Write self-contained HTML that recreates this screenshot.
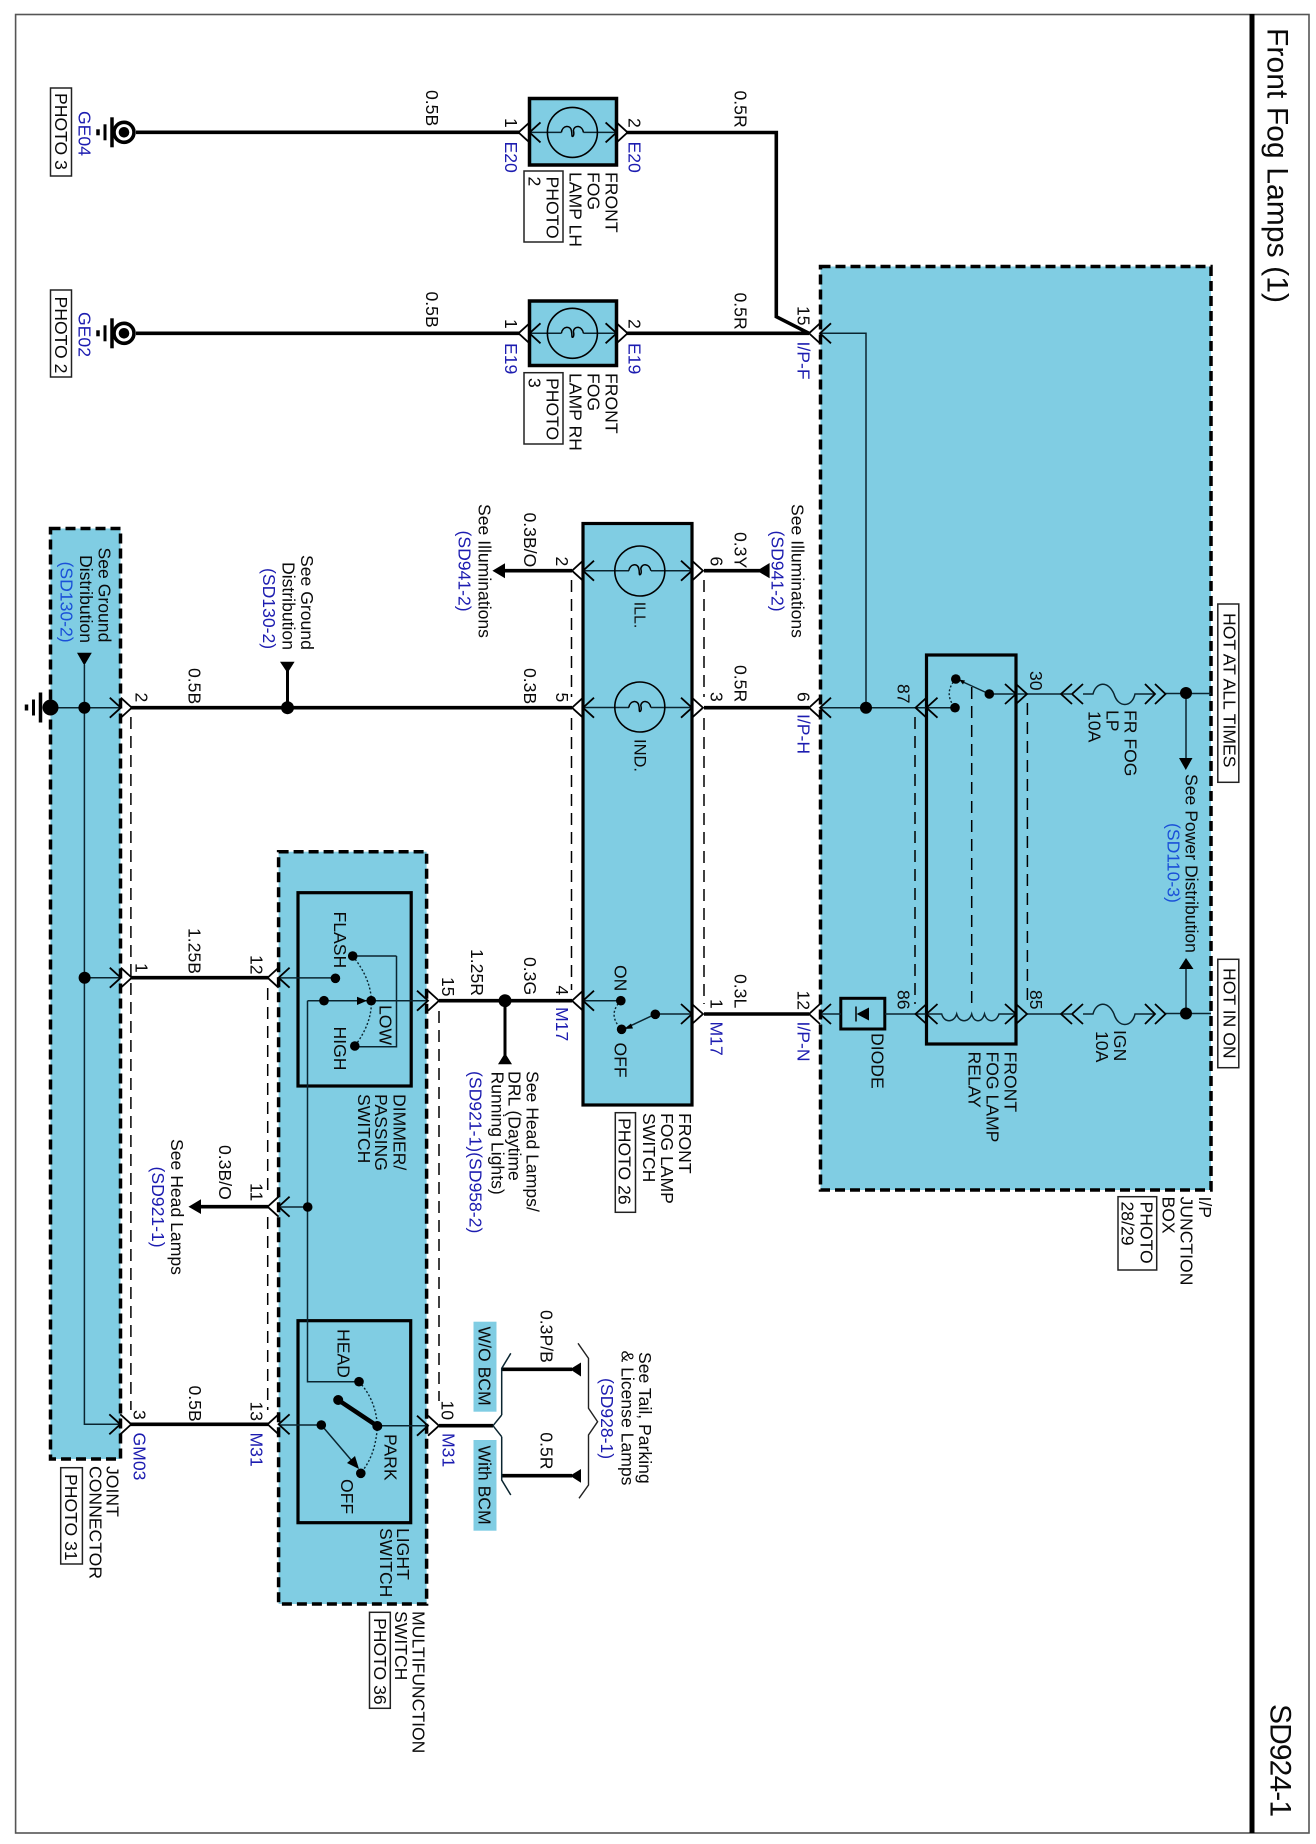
<!DOCTYPE html>
<html><head><meta charset="utf-8"><style>
html,body{margin:0;padding:0;background:#fff}
svg{display:block}
text{font-family:"Liberation Sans",Arial,sans-serif;font-size:17.6px;fill:#0a0a0a}
.b{fill:#1c1cb0}.c{fill:#1a50d8}
.w{stroke:#000;stroke-width:3.6;fill:none}
.t{stroke:#0a2530;stroke-width:1.5;fill:none}
.k{stroke:#000;stroke-width:3;fill:none}
.d{stroke:#000;stroke-width:1.5;fill:none;stroke-dasharray:12 7}
.box{fill:#80cde3;stroke:#000;stroke-width:3.5;stroke-dasharray:10 5}
.lb{fill:#fff;stroke:#222;stroke-width:1.5}
.dot{stroke:#0a2530;stroke-width:1.4;fill:none;stroke-dasharray:2 2}
</style></head><body>
<svg width="1316" height="1844" viewBox="0 0 1316 1844" xmlns="http://www.w3.org/2000/svg">
<defs>
<g id="L" fill="none" stroke="#000" stroke-width="1.8"><path d="M0-10 L-11 0 L0 10"/><path d="M11-10 L0 0 L11 10"/></g>
<g id="R" fill="none" stroke="#000" stroke-width="1.8"><path d="M0-10 L11 0 L0 10"/><path d="M-11-10 L0 0 L-11 10"/></g>
<path id="f" fill="none" stroke="#000" stroke-width="1.5" d="M-11 0 C-10-7-2-8-1-2 C0 2-1 4 0 4 C1 4 2 2 1-2 C2-8 10-7 11 0"/>
<g id="g" fill="none" stroke="#000"><path d="M-26-3V3" stroke-width="3.5"/><path d="M-19-8V8" stroke-width="3"/><path d="M-12-15V15" stroke-width="3.5"/></g>
</defs>
<rect width="1316" height="1844" fill="#fff"/>
<rect x="15.6" y="14.5" width="1293.4" height="1818.5" fill="none" stroke="#555" stroke-width="1.6"/>
<path d="M1252 14V1833" stroke="#000" stroke-width="5"/>

<!-- component boxes -->
<rect class="box" x="820.5" y="266.5" width="390.5" height="923.5"/>
<rect class="box" x="50.5" y="528.5" width="70" height="930.5"/>
<rect class="box" x="278.6" y="851.7" width="148" height="752.3"/>
<rect x="583" y="523.5" width="109" height="581.5" fill="#80cde3" stroke="#000" stroke-width="3.2"/>
<rect x="529.5" y="98.5" width="87" height="66.5" fill="#80cde3" stroke="#000" stroke-width="3.5"/>
<rect x="529.5" y="301" width="87" height="64.5" fill="#80cde3" stroke="#000" stroke-width="3.5"/>
<rect x="926.5" y="655" width="89.5" height="389" fill="none" stroke="#000" stroke-width="3.2"/>
<rect x="298" y="892.7" width="113.2" height="193.3" fill="none" stroke="#000" stroke-width="3.2"/>
<rect x="298" y="1320.7" width="112.7" height="202" fill="none" stroke="#000" stroke-width="3.2"/>
<rect x="840.8" y="998.3" width="44" height="30.7" fill="none" stroke="#000" stroke-width="3"/>

<!-- label boxes -->
<rect class="lb" x="50.5" y="88" width="21" height="88"/>
<rect class="lb" x="50.5" y="290" width="21" height="87"/>
<rect class="lb" x="524" y="171" width="39" height="71"/>
<rect class="lb" x="524" y="372.7" width="39" height="71.3"/>
<rect class="lb" x="615.3" y="1112.7" width="20.2" height="99.6"/>
<rect class="lb" x="1118" y="1196.7" width="38.7" height="73.3"/>
<rect class="lb" x="1217.8" y="604" width="21" height="178.3"/>
<rect class="lb" x="1217.8" y="959.3" width="21" height="108.4"/>
<rect class="lb" x="60.7" y="1467.7" width="21.7" height="96.3"/>
<rect class="lb" x="369.5" y="1612.3" width="20.8" height="96"/>
<rect x="473.5" y="1321.7" width="23" height="90" fill="#80cde3"/>
<rect x="473.5" y="1440" width="23" height="90.7" fill="#80cde3"/>

<!-- dashed -->
<path class="d" d="M130.9 717V1410M267.7 988V1197M267.7 1217V1410M439 1011V1401M571.5 580V697M571.5 718V990M704 580V697M704 718V1004M915 717V1004M971.7 687V1010M1027.4 703V1004"/>

<!-- thick wires -->
<path class="w" d="M136 132.3H520M136 333.3H520"/>
<path class="w" d="M626 132.5H776.3V316.7L809 333.3M626 333.3H809"/>
<path class="w" d="M131 707.7H572M704 707.7H809M704 570.7H760M503 570.7H572M704 1014H809"/>
<path class="w" d="M131 977.7H268M439 1000.7H572M201 1206.7H268M130 1424.3H268M439 1425.7H493"/>
<path class="w" d="M501.7 1369.3H572M501.7 1475.7H572"/>
<path class="k" d="M287.5 707.7V670M505 1000.7V1056"/>

<!-- thin wires -->
<path class="t" d="M820 333.3H866V707.7M820 707.7H955M989.3 694H1071M1083 694H1093C1096 682 1108 680 1114 694C1118 708 1132 708 1135 694H1155M1165 693.5H1211"/>
<path class="t" d="M1186 693V758M1186 969V1013"/>
<path class="t" d="M820 1014H841M885 1014H941.7C944 1023 954 1023 956.7 1014C959 1023 969 1023 971.7 1014C974 1023 982 1023 984.5 1014C987 1023 996 1023 999 1014H1016M1027 1014H1071M1083 1014H1093C1096 1002 1108 1000 1114 1014C1118 1028 1132 1028 1135 1014H1155M1165 1013.5H1211"/>
<path class="t" d="M84.4 665V1424.3H120M50 707.7H120M85 977.7H120"/>
<path class="t" d="M279 977.9H335.4M279 1207H307.7M279 1425H321.3M377 1425.7H428"/>
<path class="t" d="M396.5 956H352.7M396.5 956V1046.7H354.8M307.5 1000.7H428M307.5 1000.7V1381.7H359"/>
<path class="t" d="M583 570.7H629M651 570.7H692M583 707.5H629M651 707.5H692M583 1000.7H620.8M655 1014H692"/>
<path class="t" d="M529.5 132.4H561.4M583.4 132.4H616.6M529.5 333.3H561.4M583.4 333.3H616.6"/>
<path class="t" d="M501.7 1415V1368.3L510.8 1353.3M501.7 1436.7V1480L510.8 1495M493 1425.7L501.7 1415M493 1425.7L501.7 1436.7"/>
<path d="M578 1343.3L588.5 1358.3V1408.3L597.6 1421.7L588.5 1435V1485L579 1498.3" fill="none" stroke="#222" stroke-width="1.4"/>

<!-- switch arms and arcs -->
<path class="t" d="M989.3 694L962 681.5M655 1014.3L628 1027M321.3 1425L352 1461"/>
<path d="M338.2 1400L377.3 1426" stroke="#000" stroke-width="4.5" fill="none"/>
<path class="dot" d="M955.8 679Q943 693 955 707.7M620.8 1000.7Q607 1015 621.6 1029.3M352.7 956Q389 1001 354.8 1046M359 1381.7Q376 1400 377.3 1426Q376 1455 360.8 1473"/>
<path d="M959 679.5L965 680.5L963 684.5ZM624 1029L631 1023.5L633 1028.5ZM359 1469L347 1463L355 1456ZM357 996.7V1005L367 1000.7Z" fill="#000"/>

<!-- lamps -->
<g fill="none" stroke="#000" stroke-width="1.6">
<circle cx="572.4" cy="132.4" r="25"/><circle cx="572.4" cy="333.3" r="25"/>
<circle cx="639.8" cy="571" r="25"/><circle cx="639.8" cy="707" r="25"/>
</g>
<use href="#f" x="572.4" y="132.4"/><use href="#f" x="572.4" y="333.3"/>
<use href="#f" x="639.8" y="570.7"/><use href="#f" x="639.8" y="707.5"/>

<!-- grounds -->
<g fill="none" stroke="#000">
<circle cx="124" cy="132.3" r="10" stroke-width="3.6"/><circle cx="124" cy="333.3" r="10" stroke-width="3.6"/>
</g>
<circle cx="124" cy="132.3" r="5.3"/><circle cx="124" cy="333.3" r="5.3"/>
<use href="#g" x="124" y="132.3"/><use href="#g" x="124" y="333.3"/>
<use href="#g" x="52.5" y="707.5"/>

<!-- connectors -->
<use href="#L" x="529.5" y="132.4"/><use href="#R" x="616.6" y="132.4"/>
<use href="#L" x="529.5" y="333.3"/><use href="#R" x="616.6" y="333.3"/>
<use href="#L" x="820" y="333.3"/><use href="#L" x="820" y="707.7"/><use href="#L" x="820" y="1014"/>
<use href="#R" x="692" y="570.7"/><use href="#R" x="692" y="707.7"/><use href="#R" x="692" y="1014"/>
<use href="#L" x="583" y="570.7"/><use href="#L" x="583" y="707.7"/><use href="#L" x="583" y="1000.7"/>
<use href="#R" x="120.8" y="707.7"/><use href="#R" x="120.8" y="977.7"/><use href="#R" x="120.3" y="1424.3"/>
<use href="#L" x="278.6" y="977.7"/><use href="#L" x="278.6" y="1206.7"/><use href="#L" x="278.6" y="1424.3"/>
<use href="#R" x="428" y="1000.7"/><use href="#R" x="428" y="1425.7"/>
<use href="#L" x="926.5" y="707.7"/><use href="#L" x="926.5" y="1014"/>
<use href="#R" x="1016" y="694"/><use href="#R" x="1016" y="1014"/>
<g fill="none" stroke="#000" stroke-width="1.8">
<path d="M1072 684L1061 694L1072 704M1083 684L1072 694L1083 704M1145 684L1155 694L1145 704M1155 684L1165.5 694L1155 704"/>
<path d="M1072 1004L1061 1014L1072 1024M1083 1004L1072 1014L1083 1024M1145 1004L1155 1014L1145 1024M1155 1004L1165.5 1014L1155 1024"/>
</g>

<!-- dots -->
<g fill="#000">
<circle cx="866" cy="707.7" r="6"/><circle cx="1186" cy="693" r="6"/><circle cx="1186" cy="1013.5" r="6"/>
<circle cx="955.8" cy="679" r="4.8"/><circle cx="955" cy="707.7" r="4.8"/><circle cx="989.3" cy="694" r="4.8"/>
<circle cx="50.5" cy="707.5" r="8"/><circle cx="84.4" cy="707.7" r="6"/><circle cx="84.6" cy="977.7" r="6"/>
<circle cx="287.5" cy="707.7" r="6.5"/><circle cx="505" cy="1000.7" r="6.5"/>
<circle cx="335.4" cy="978.3" r="4.8"/><circle cx="352.7" cy="956" r="4.8"/><circle cx="354.8" cy="1046" r="4.8"/>
<circle cx="371.2" cy="1000.7" r="4.8"/><circle cx="324" cy="1000.7" r="4.8"/><circle cx="307.7" cy="1207" r="4.8"/>
<circle cx="620.8" cy="1000.7" r="4.8"/><circle cx="621.6" cy="1029.3" r="4.8"/><circle cx="655.3" cy="1014.3" r="4.8"/>
<circle cx="359" cy="1381.7" r="4.8"/><circle cx="321.3" cy="1425" r="4.8"/><circle cx="377.3" cy="1426" r="5"/>
<circle cx="338.2" cy="1400" r="5"/><circle cx="360.8" cy="1473.3" r="4.8"/>
<!-- triangles -->
<path d="M757 570.7L769.6 563V578.3ZM492.4 570.7L505 563.3V578.3ZM188.5 1206.7L201 1199.3V1214ZM570 1369.3L581 1362.5V1376.5ZM570 1475.7L581 1469V1482.7Z"/>
<path d="M77 652.7H91.8L84.3 665.5ZM280 661.7H294.6L287.5 673ZM505 1053L498 1064.3H512ZM1179 758H1192.5L1185.8 770ZM1179 969H1193.5L1186 958Z"/>
<path d="M856.6 1014L869 1007.5V1020.5Z"/>
</g>
<path d="M856 1006.5V1021.5" stroke="#000" stroke-width="1.5"/>

<!-- all text rotated: x = screen Y, y = -screen X -->
<g transform="rotate(90) translate(0,-1)">
<text x="28" y="-1266.5" style="font-size:30px" textLength="275">Front Fog Lamps (1)</text>
<text x="1704" y="-1269.5" style="font-size:30px" textLength="113">SD924-1</text>

<text x="93" y="-54">PHOTO 3</text>
<text x="111" y="-77.5" class="b">GE04</text>
<text x="296.5" y="-54">PHOTO 2</text>
<text x="312" y="-77.5" class="b">GE02</text>
<text x="90" y="-425">0.5B</text>
<text x="291.5" y="-425">0.5B</text>
<text x="90.5" y="-733.5">0.5R</text>
<text x="292.5" y="-733.5">0.5R</text>

<text x="118" y="-504">1</text><text x="319" y="-504">1</text>
<text x="118" y="-627.5">2</text><text x="319" y="-627.5">2</text>
<text x="141.5" y="-504" class="b">E20</text><text x="141.5" y="-627.5" class="b">E20</text>
<text x="343" y="-504" class="b">E19</text><text x="343" y="-627.5" class="b">E19</text>

<text x="172" y="-604.5">FRONT</text><text x="172" y="-586.5">FOG</text><text x="172" y="-568.5">LAMP LH</text>
<text x="176.5" y="-545.5">PHOTO</text><text x="176.5" y="-527.5">2</text>
<text x="373" y="-604.5">FRONT</text><text x="373" y="-586.5">FOG</text><text x="373" y="-568.5">LAMP RH</text>
<text x="378" y="-545.5">PHOTO</text><text x="378" y="-527.5">3</text>

<text x="306" y="-796.5">15</text>
<text x="341.5" y="-796.5" class="b">I/P-F</text>
<text x="692" y="-796.5">6</text>
<text x="714" y="-796.5" class="b">I/P-H</text>
<text x="990.5" y="-796.5">12</text>
<text x="1021.5" y="-796.5" class="b">I/P-N</text>

<text x="556.5" y="-709.5">6</text>
<text x="532" y="-733.5">0.3Y</text>
<text x="504" y="-790.5">See Illuminations</text>
<text x="530.5" y="-770.5" class="b">(SD941-2)</text>
<text x="692" y="-709.5">3</text>
<text x="665" y="-733.5">0.5R</text>
<text x="999" y="-709.5">1</text>
<text x="1021.5" y="-709.5" class="b">M17</text>
<text x="974" y="-733.5">0.3L</text>

<text x="684" y="-896.5">87</text>
<text x="671" y="-1029">30</text>
<text x="990" y="-896.5">86</text>
<text x="990" y="-1029">85</text>
<text x="710" y="-1123.5">FR FOG</text><text x="710" y="-1105.5">LP</text><text x="711" y="-1087.5">10A</text>
<text x="1030" y="-1113">IGN</text><text x="1031" y="-1095">10A</text>
<text x="774" y="-1184.5">See Power Distribution</text>
<text x="823" y="-1166.5" class="c">(SD110-3)</text>
<text x="613" y="-1222.5">HOT AT ALL TIMES</text>
<text x="968" y="-1222.5">HOT IN ON</text>
<text x="1033" y="-870.5">DIODE</text>
<text x="1051.5" y="-1003.5">FRONT</text><text x="1051.5" y="-985.5">FOG LAMP</text><text x="1051.5" y="-967.5">RELAY</text>
<text x="1196.5" y="-1198">I/P</text><text x="1196.5" y="-1179.5">JUNCTION</text><text x="1196.5" y="-1161.5">BOX</text>
<text x="1201.5" y="-1139.5">PHOTO</text><text x="1201.5" y="-1120.5">28/29</text>

<text x="601.7" y="-633.5" style="font-size:16px">ILL.</text>
<text x="739" y="-633.5" style="font-size:16.5px">IND.</text>
<text x="965" y="-613.5">ON</text>
<text x="1042.5" y="-613.5">OFF</text>
<text x="1113" y="-678">FRONT</text><text x="1113" y="-660">FOG LAMP</text><text x="1113" y="-642">SWITCH</text>
<text x="1118" y="-617.5">PHOTO 26</text>

<text x="547.5" y="-97.5">See Ground</text>
<text x="555" y="-79">Distribution</text>
<text x="561.5" y="-59.5" class="c">(SD130-2)</text>
<text x="555" y="-300">See Ground</text>
<text x="562" y="-281.5">Distribution</text>
<text x="568" y="-262" class="b">(SD130-2)</text>
<text x="692.5" y="-134.5">2</text>
<text x="668" y="-187.5">0.5B</text>
<text x="668" y="-523">0.3B</text>
<text x="692.5" y="-555">5</text>
<text x="556.5" y="-555">2</text>
<text x="512.5" y="-523">0.3B/O</text>
<text x="504" y="-477.5">See Illuminations</text>
<text x="530.5" y="-457.5" class="b">(SD941-2)</text>

<text x="963" y="-134.5">1</text>
<text x="928" y="-187.5">1.25B</text>
<text x="955" y="-249.5">12</text>
<text x="911.5" y="-333">FLASH</text>
<text x="1005" y="-378.5">LOW</text>
<text x="1026.5" y="-333">HIGH</text>
<text x="1094" y="-392.5">DIMMER/</text><text x="1094" y="-374">PASSING</text><text x="1094" y="-357">SWITCH</text>
<text x="977" y="-441">15</text>
<text x="949" y="-470">1.25R</text>
<text x="957" y="-523">0.3G</text>
<text x="985.5" y="-555">4</text>
<text x="1007" y="-555" class="b">M17</text>
<text x="1071" y="-525.5">See Head Lamps/</text>
<text x="1071" y="-507.5">DRL (Daytime</text>
<text x="1071.5" y="-490.5">Running Lights)</text>
<text x="1071" y="-468.5" class="b">(SD921-1)(SD958-2)</text>
<text x="1145" y="-218">0.3B/O</text>
<text x="1183" y="-249.5">11</text>
<text x="1139" y="-170">See Head Lamps</text>
<text x="1166.5" y="-151" class="b">(SD921-1)</text>

<text x="1410" y="-132.5">3</text>
<text x="1432.5" y="-132.5" class="b">GM03</text>
<text x="1385.5" y="-188">0.5B</text>
<text x="1401.5" y="-249.5">13</text>
<text x="1432.5" y="-249.5" class="b">M31</text>
<text x="1329" y="-336.5">HEAD</text>
<text x="1434" y="-383.5">PARK</text>
<text x="1479" y="-340">OFF</text>
<text x="1528" y="-396">LIGHT</text><text x="1528" y="-379">SWITCH</text>
<text x="1400.5" y="-440.5">10</text>
<text x="1433" y="-441.5" class="b">M31</text>
<text x="1326.5" y="-477.5">W/O BCM</text>
<text x="1445.5" y="-477.5">With BCM</text>
<text x="1310" y="-539.5">0.3P/B</text>
<text x="1432.3" y="-539.5">0.5R</text>
<text x="1352" y="-638">See Tail, Parking</text>
<text x="1350.5" y="-620.5">&amp; License Lamps</text>
<text x="1378" y="-600" class="b">(SD928-1)</text>
<text x="1466" y="-105.5">JOINT</text><text x="1466" y="-88.5">CONNECTOR</text>
<text x="1474" y="-64">PHOTO 31</text>
<text x="1611" y="-411.5">MULTIFUNCTION</text><text x="1611" y="-394">SWITCH</text>
<text x="1618" y="-373">PHOTO 36</text>
</g>
</svg>
</body></html>
